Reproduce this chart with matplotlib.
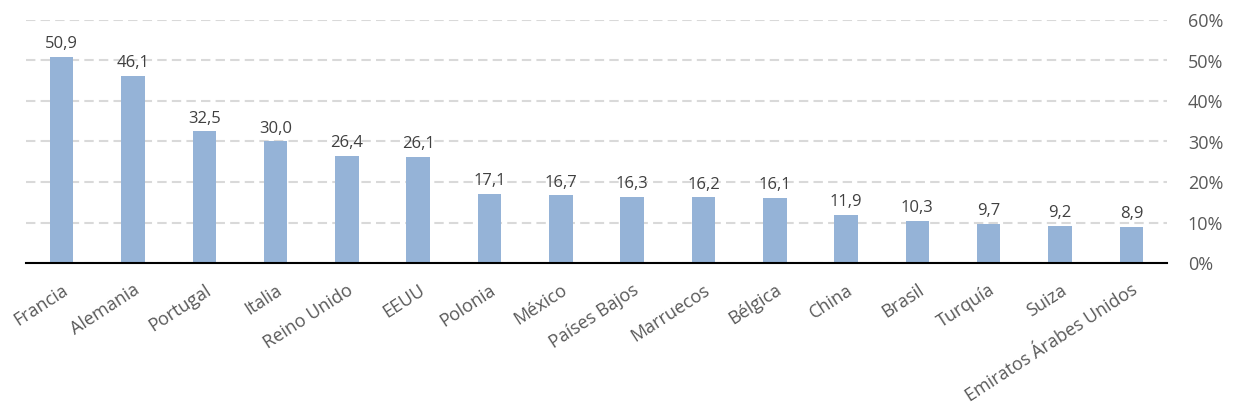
import matplotlib.pyplot as plt
from matplotlib.ticker import FuncFormatter

# Country list and share values (%)
paises = ['Francia', 'Alemania', 'Portugal', 'Italia', 'Reino Unido', 'EEUU',
          'Polonia', 'México', 'Países Bajos', 'Marruecos', 'Bélgica', 'China',
          'Brasil', 'Turquía', 'Suiza', 'Emiratos Árabes Unidos']
valores = [50.9, 46.1, 32.5, 30.0, 26.4, 26.1, 17.1, 16.7, 16.3, 16.2,
           16.1, 11.9, 10.3, 9.7, 9.2, 8.9]
ticks_y = [0, 10, 20, 30, 40, 50, 60]

plt.rcParams['font.family'] = ['Open Sans', 'DejaVu Sans']
gris = '#595959'

fig = plt.figure(figsize=(12.36, 4.15), dpi=100)
ax = fig.add_axes([26 / 1236, 1 - 263 / 415, (1167 - 26) / 1236, (263 - 20) / 415])

x = range(len(paises))
barras = ax.bar(x, valores, width=0.33, color='#95b3d7', zorder=3)

# value labels above each bar
for xi, v in zip(x, valores):
    ax.text(xi, v + 1.2, f'{v:.1f}'.replace('.', ','), ha='center', va='bottom',
            fontsize=12, color='#404040', zorder=4)

ax.set_xlim(-0.5, len(paises) - 0.5)
ax.set_ylim(0, 60)
ax.set_yticks(ticks_y)
ax.yaxis.set_major_formatter(FuncFormatter(lambda v, p: f'{v:.0f}%'))
ax.yaxis.tick_right()
ax.tick_params(axis='y', length=0, pad=15, labelsize=13, labelcolor=gris)

ax.set_xticks(list(x))
ax.set_xticklabels(paises, rotation=33, ha='right', rotation_mode='anchor',
                   fontsize=13, color=gris)
ax.tick_params(axis='x', length=0, pad=13)

ax.grid(axis='y', linestyle=(0, (4.5, 2.5)), color='#d9d9d9', linewidth=1.5, zorder=0)
for s in ['top', 'right', 'left']:
    ax.spines[s].set_visible(False)
ax.spines['bottom'].set_color('black')
ax.spines['bottom'].set_linewidth(1.5)
ax.spines['bottom'].set_zorder(5)

fig.savefig('out.png', dpi=100)
